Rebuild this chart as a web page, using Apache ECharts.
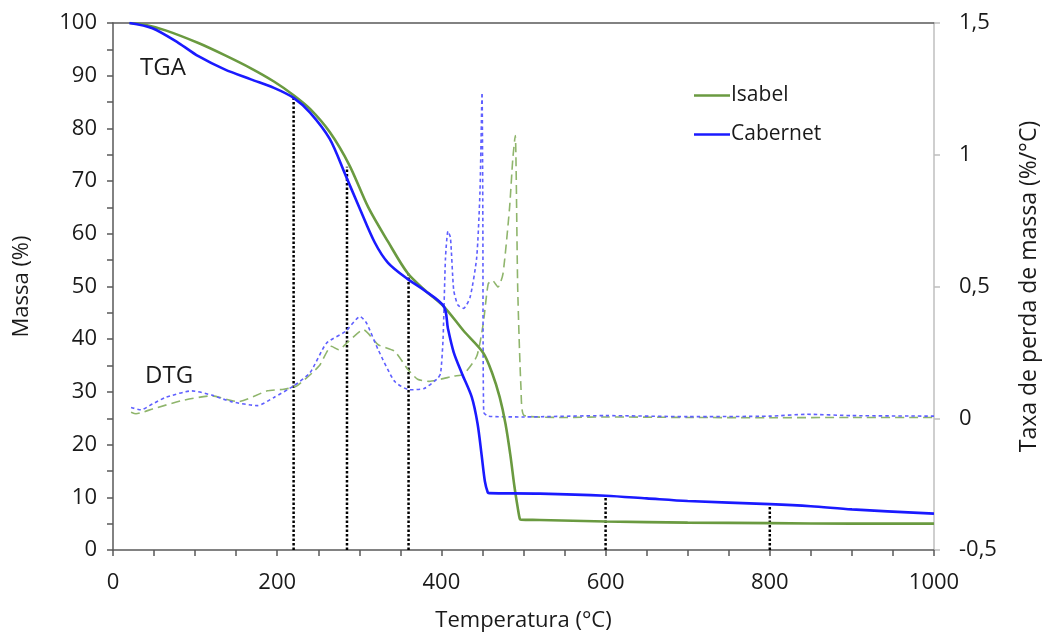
<!DOCTYPE html>
<html>
<head>
<meta charset="utf-8">
<script src="https://cdn.jsdelivr.net/npm/echarts@6/dist/echarts.min.js"></script>
<style>
html,body{margin:0;padding:0;background:#fff;overflow:hidden;}
#chart{width:1049px;height:637px;}
</style>
</head>
<body>
<div id="chart"></div>
<script>
// ---------- DATA ----------
// TGA (mass %, left axis)
const isabelTgaT = [20, 40, 64, 104, 136, 168, 196, 220, 240, 264, 288, 311, 335, 359, 380, 403, 427, 451, 462, 471, 478, 484, 489, 493, 495.5, 497, 520, 600, 700, 800, 900, 1000];
const isabelTgaM = [100, 99.6, 98.6, 96.2, 93.9, 91.4, 88.9, 86.3, 83.7, 79.3, 73.0, 65.0, 58.5, 52.5, 49.3, 46.2, 41.6, 37.4, 33.5, 29.0, 24.0, 18.0, 12.0, 8.0, 5.9, 5.75, 5.7, 5.4, 5.2, 5.1, 5.0, 5.0];

const cabernetTgaT = [20, 48, 80, 104, 136, 168, 196, 220, 240, 264, 283, 300, 319, 335, 359, 379, 403, 408, 415, 425, 437, 444, 449, 453, 456.5, 458, 520, 600, 650, 700, 800, 850, 900, 1000];
const cabernetTgaM = [100, 99.0, 96.2, 93.7, 91.2, 89.3, 87.7, 85.8, 83.0, 78.0, 71.2, 65.0, 58.3, 54.5, 51.4, 49.3, 46.2, 42.0, 37.5, 33.5, 29.0, 24.0, 18.0, 13.0, 10.9, 10.8, 10.7, 10.3, 9.8, 9.3, 8.7, 8.3, 7.7, 6.9];

// DTG (mass loss rate %/°C, right axis)
const isabelDtgT = [22, 28, 48, 84, 120, 152, 188, 208, 224, 251, 266, 275, 287, 305, 323, 343, 359, 371, 385, 399, 415, 427, 443, 451, 457, 462, 469, 475, 483, 487, 490, 491, 493, 497, 501, 550, 600, 700, 800, 900, 1000];
const isabelDtgV = [0.023, 0.017, 0.035, 0.067, 0.085, 0.063, 0.104, 0.110, 0.123, 0.198, 0.273, 0.260, 0.292, 0.336, 0.279, 0.254, 0.186, 0.148, 0.140, 0.148, 0.160, 0.167, 0.235, 0.360, 0.510, 0.523, 0.498, 0.548, 0.798, 0.986, 1.073, 0.948, 0.486, 0.110, 0.010, 0.003, 0.005, 0.003, 0.002, 0.003, 0.003];

const cabernetDtgT = [22, 34, 48, 64, 96, 120, 144, 176, 196, 220, 240, 260, 283, 301, 309, 323, 343, 361, 379, 395, 399, 402, 405, 408, 411, 415, 420, 427, 435, 443, 447, 449.5, 450.5, 451.5, 457, 500, 600, 700, 800, 845, 900, 1000];
const cabernetDtgV = [0.041, 0.032, 0.054, 0.079, 0.104, 0.088, 0.063, 0.048, 0.079, 0.123, 0.173, 0.285, 0.329, 0.386, 0.360, 0.260, 0.140, 0.108, 0.113, 0.150, 0.170, 0.300, 0.610, 0.710, 0.686, 0.486, 0.430, 0.417, 0.460, 0.610, 0.861, 1.236, 0.736, 0.023, 0.008, 0.005, 0.010, 0.006, 0.008, 0.015, 0.010, 0.008];

// Vertical dotted reference lines (temperature, mass at top)
const markerT = [220, 285, 360, 600, 800];
const markerM = [86.1, 72.7, 52.4, 10.4, 8.6];

// Tick settings
const xTicks = {min: 0, max: 1000, interval: 200};
const yLeftTicks = {min: 0, max: 100, interval: 10};
const yRightTicks = {min: -0.5, max: 1.5, interval: 0.5};

// ---------- CHART ----------
const zip = (a, b) => a.map((v, i) => [v, b[i]]);
const FONT = 'Open Sans';
const TXT = '#1a1a1a';
const GREEN = '#6a9a40';
const BLUE = '#1a1aff';
const LBL = 22;
const TTL = 22;

const chart = echarts.init(document.getElementById('chart'), null, {renderer: 'canvas'});

const markerSeries = markerT.map((t, i) => ({
  name: 'marker' + i,
  type: 'line',
  xAxisIndex: 0, yAxisIndex: 0,
  data: [[t, 0], [t, markerM[i]]],
  symbol: 'none',
  silent: true,
  z: 1,
  lineStyle: {color: '#000', width: 2.5, type: [2.5, 2], cap: 'butt'}
}));

const option = {
  animation: false,
  backgroundColor: '#fff',
  textStyle: {fontFamily: FONT, color: TXT},
  grid: {left: 113, right: 100, top: 23, bottom: 81, containLabel: false},
  legend: {
    data: [{name: 'Isabel', icon: 'rect'}, {name: 'Cabernet', icon: 'rect'}],
    orient: 'vertical',
    left: 689, top: 80,
    itemWidth: 36, itemHeight: 2.5,
    itemGap: 18,
    textStyle: {fontFamily: FONT, fontSize: 21, color: TXT, padding: [0, 0, 0, -4]}
  },
  xAxis: [{
    type: 'value',
    min: xTicks.min, max: xTicks.max, interval: xTicks.interval,
    name: 'Temperatura (°C)', nameLocation: 'middle', nameGap: 60,
    nameTextStyle: {fontFamily: FONT, fontSize: TTL, color: TXT},
    axisLine: {show: true, onZero: false, lineStyle: {color: '#595959', width: 1.5}},
    axisTick: {show: true, inside: false, length: 6, lineStyle: {color: '#595959', width: 1.5}},
    minorTick: {show: true, splitNumber: 4, length: 6, lineStyle: {color: '#595959', width: 1.5}},
    axisLabel: {fontFamily: FONT, fontSize: LBL, color: TXT, margin: 22, formatter: v => String(v)},
    splitLine: {show: false}
  }, {
    type: 'value', position: 'top',
    min: xTicks.min, max: xTicks.max,
    axisLine: {show: true, onZero: false, lineStyle: {color: '#595959', width: 1.5}},
    axisTick: {show: false}, axisLabel: {show: false}, splitLine: {show: false}
  }],
  yAxis: [{
    type: 'value', position: 'left',
    min: yLeftTicks.min, max: yLeftTicks.max, interval: yLeftTicks.interval,
    name: 'Massa (%)', nameLocation: 'middle', nameGap: 80, nameRotate: 90,
    nameTextStyle: {fontFamily: FONT, fontSize: TTL, color: TXT},
    axisLine: {show: true, onZero: false, lineStyle: {color: '#595959', width: 1.5}},
    axisTick: {show: true, inside: false, length: 6, lineStyle: {color: '#595959', width: 1.5}},
    minorTick: {show: true, splitNumber: 2, length: 6, lineStyle: {color: '#595959', width: 1.5}},
    axisLabel: {fontFamily: FONT, fontSize: LBL, color: TXT, margin: 16},
    splitLine: {show: false}
  }, {
    type: 'value', position: 'right',
    min: yRightTicks.min, max: yRightTicks.max, interval: yRightTicks.interval,
    name: 'Taxa de perda de massa (%/°C)', nameLocation: 'middle', nameGap: 84, nameRotate: 90,
    nameTextStyle: {fontFamily: FONT, fontSize: 23, color: TXT},
    axisLine: {show: true, onZero: false, lineStyle: {color: '#bfbfbf', width: 1.5}},
    axisTick: {show: true, inside: false, length: 6, lineStyle: {color: '#bfbfbf', width: 1.5}},
    axisLabel: {fontFamily: FONT, fontSize: LBL, color: TXT, margin: 25,
      formatter: v => String(Math.round(v * 10) / 10).replace('.', ',')},
    splitLine: {show: false}
  }],
  graphic: [
    {type: 'text', left: 140, top: 56, style: {text: 'TGA', font: '24px "Open Sans"', fill: TXT}},
    {type: 'text', left: 145, top: 364, style: {text: 'DTG', font: '24px "Open Sans"', fill: TXT}}
  ],
  series: [
    ...markerSeries,
    {
      name: 'Isabel DTG', type: 'line', xAxisIndex: 0, yAxisIndex: 1,
      data: zip(isabelDtgT, isabelDtgV), symbol: 'none', smooth: 0.2,
      z: 2, lineStyle: {color: '#8fb56c', width: 1.6, type: [9, 5]}
    },
    {
      name: 'Cabernet DTG', type: 'line', xAxisIndex: 0, yAxisIndex: 1,
      data: zip(cabernetDtgT, cabernetDtgV), symbol: 'none', smooth: 0.2,
      z: 2, lineStyle: {color: '#5f5fff', width: 1.6, type: [3.5, 3]}
    },
    {
      name: 'Isabel', type: 'line', xAxisIndex: 0, yAxisIndex: 0,
      data: zip(isabelTgaT, isabelTgaM), symbol: 'none', smooth: 0.3,
      z: 3, itemStyle: {color: GREEN}, lineStyle: {color: GREEN, width: 2.6}
    },
    {
      name: 'Cabernet', type: 'line', xAxisIndex: 0, yAxisIndex: 0,
      data: zip(cabernetTgaT, cabernetTgaM), symbol: 'none', smooth: 0.3,
      z: 3, itemStyle: {color: BLUE}, lineStyle: {color: BLUE, width: 2.6}
    }
  ]
};
chart.setOption(option);
</script>
</body>
</html>
